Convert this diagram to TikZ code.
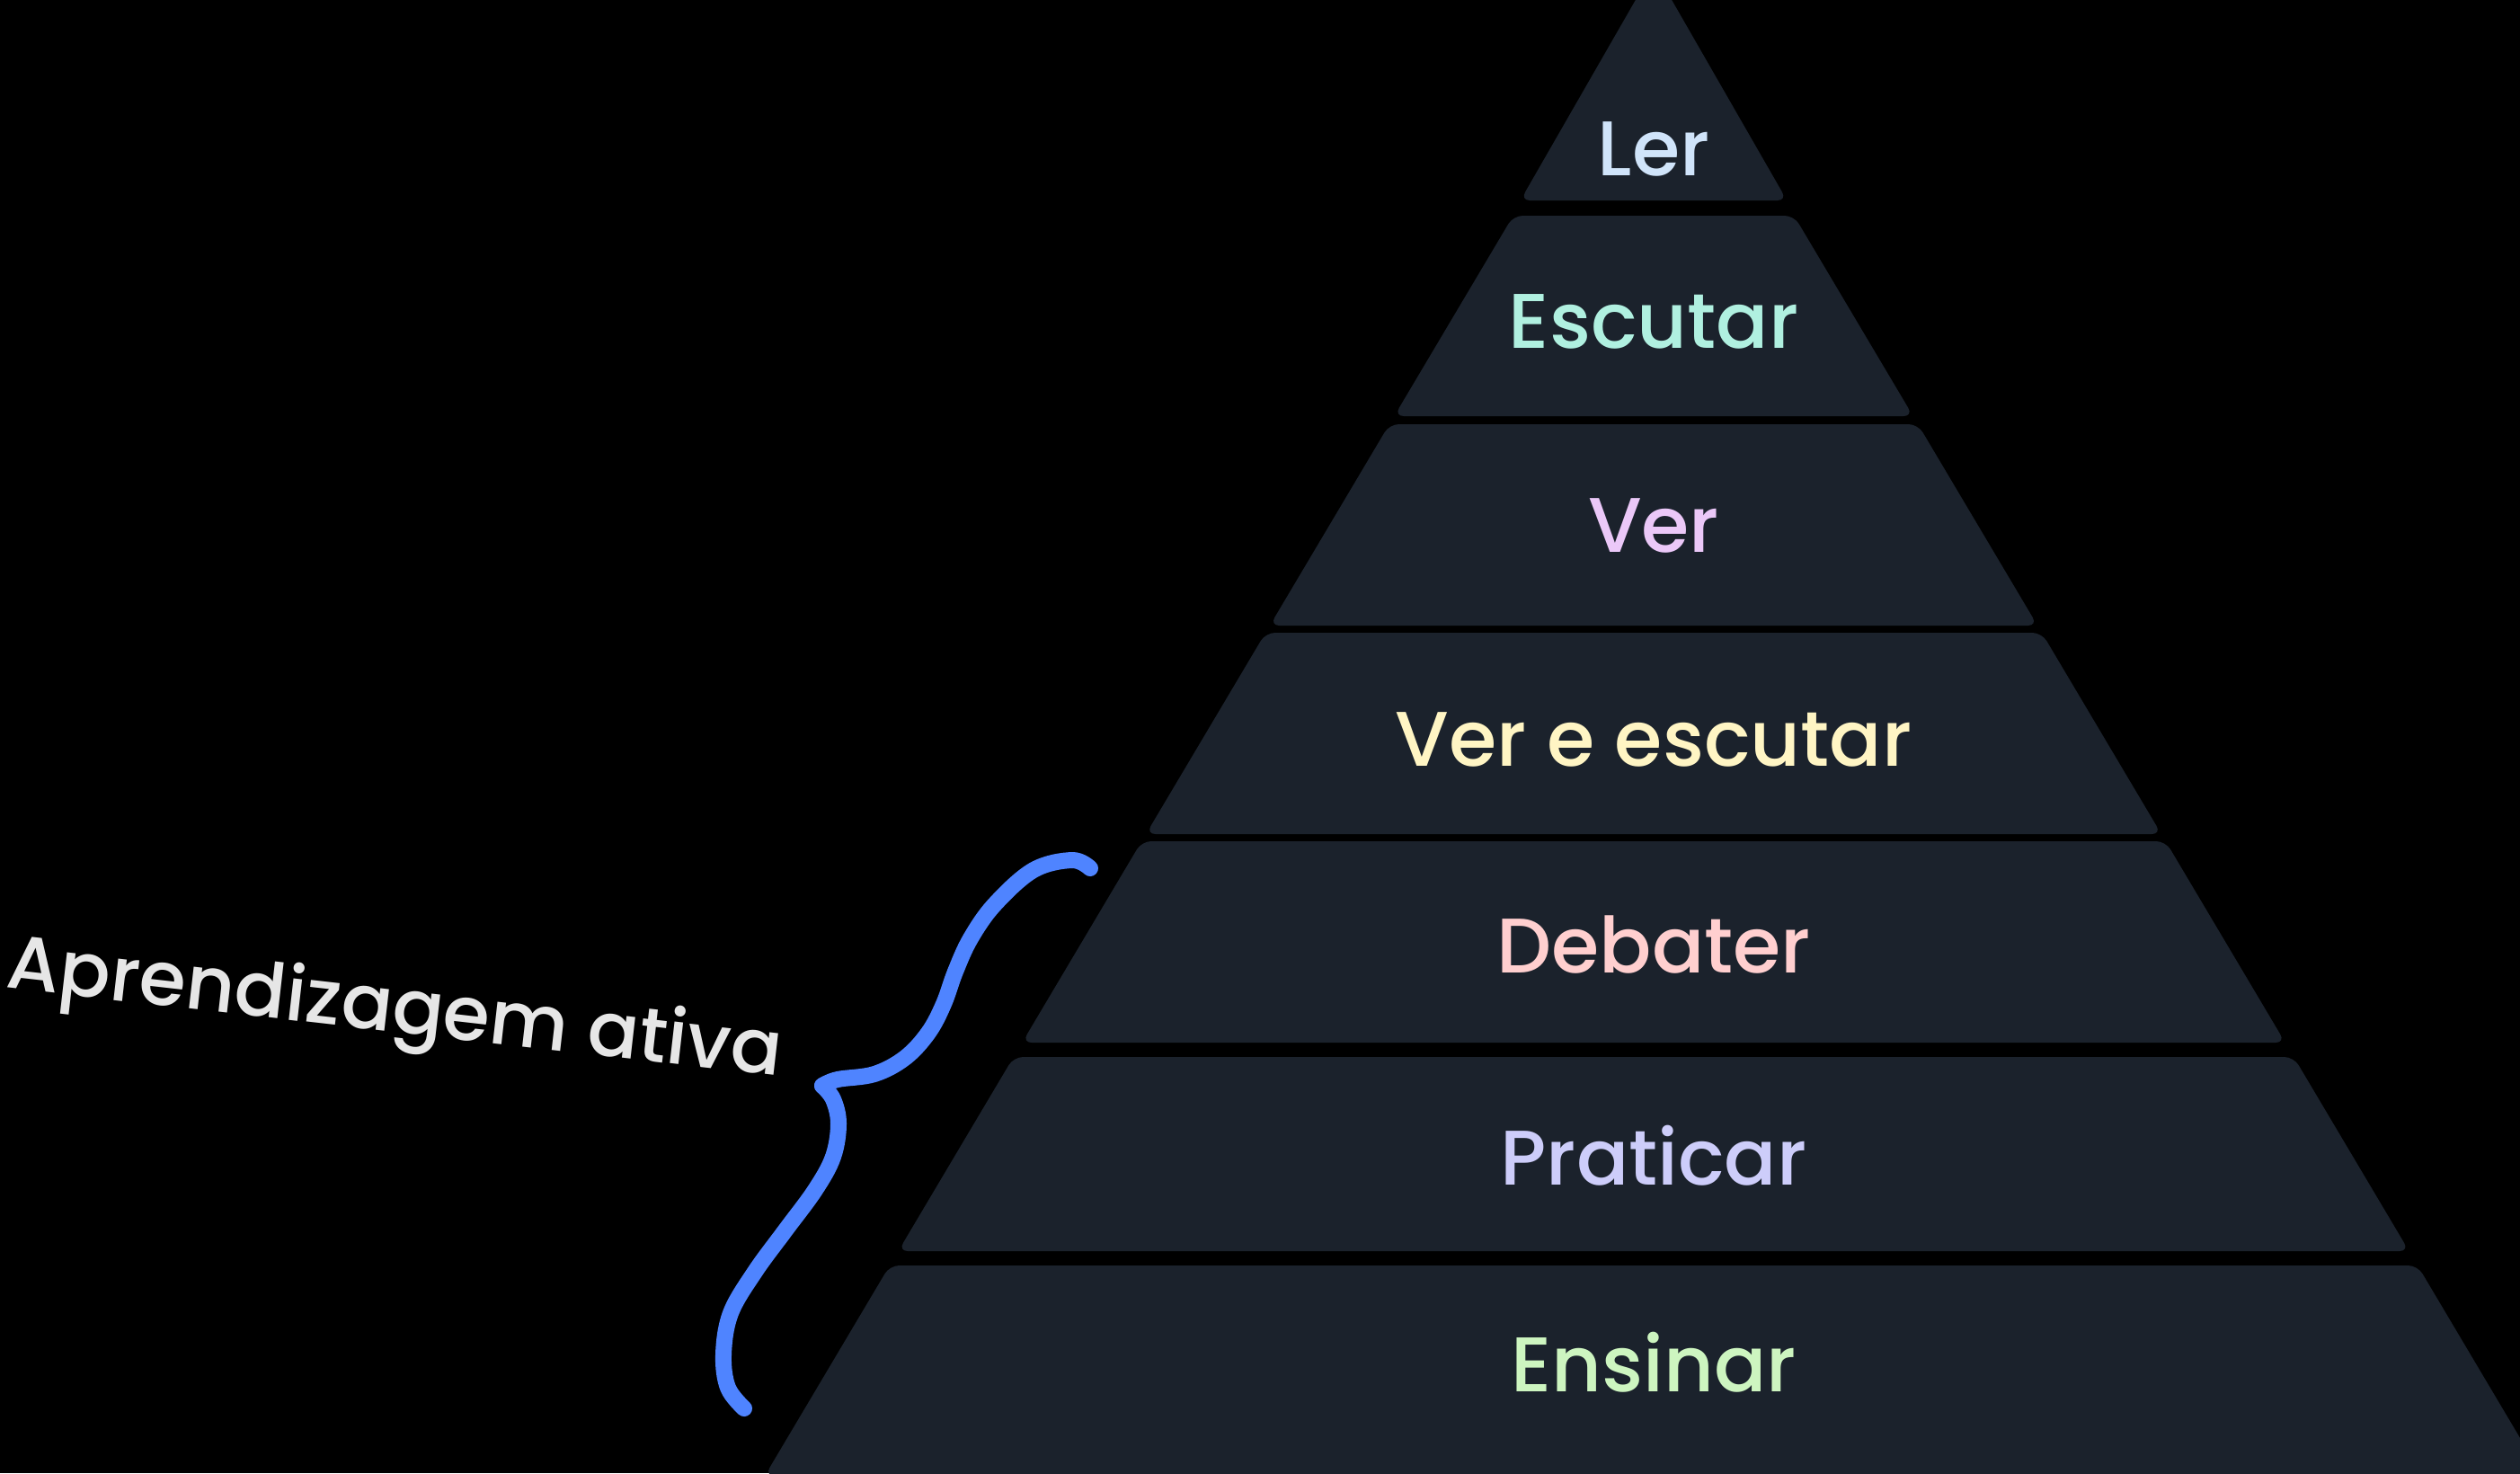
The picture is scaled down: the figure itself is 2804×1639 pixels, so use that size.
\documentclass[tikz,border=0pt]{standalone}
\usepackage{fontspec}
\setmainfont{Poppins}[UprightFont={* Medium}]
\definecolor{bandfill}{HTML}{1B222C}
\definecolor{cLer}{HTML}{D0E4FA}
\definecolor{cEscutar}{HTML}{B0F0E0}
\definecolor{cVer}{HTML}{EBC8F8}
\definecolor{cVerEsc}{HTML}{FFF5C4}
\definecolor{cDebater}{HTML}{FFCFCF}
\definecolor{cPraticar}{HTML}{CDCDFA}
\definecolor{cEnsinar}{HTML}{CDF5C0}
\definecolor{braceblue}{HTML}{4F84FF}
\definecolor{handgray}{HTML}{E6E6E6}
\tikzset{
  bandshape/.style={fill=bandfill, rounded corners=3pt},
  lbl/.style={font=\fontsize{24.5}{29}\selectfont, anchor=base, inner sep=0pt},
  handlbl/.style={font=\fontsize{24}{29}\selectfont, anchor=base, inner sep=0pt, text=handgray, rotate=-6.5},
  bracestroke/.style={draw=braceblue, line width=0.18cm, line cap=round, line join=round},
}
\begin{document}
\begin{tikzpicture}[x=0.01cm, y=-0.01cm]
\useasboundingbox (0,0) rectangle (2804,1639);
\fill[black] (0,0) rectangle (2804,1639);
% top band (triangle)
\fill[bandshape] (1840,-35) -- ({1840+0.598*248},223) -- ({1840-0.598*248},223) -- cycle;
% other bands
\foreach \t/\b in {240/463, 472/696, 704/928, 936/1160, 1176/1392, 1408/1642}{
  \fill[bandshape] ({1840-0.594*(\t+23)},\t) -- ({1840+0.594*(\t+23)},\t)
     -- ({1840+0.594*(\b+23)},\b) -- ({1840-0.594*(\b+23)},\b) -- cycle;
}
% labels
\node[lbl, text=cLer] (ler) at (1840,195) {Ler};
\node[lbl, text=cEscutar] (escutar) at (1840,387) {Escutar};
\node[lbl, text=cVer] (ver) at (1840,614) {Ver};
\node[lbl, text=cVerEsc] (veresc) at (1840,852) {Ver e escutar};
\node[lbl, text=cDebater] (debater) at (1840,1082) {Debater};
\node[lbl, text=cPraticar] (praticar) at (1840,1318) {Praticar};
\node[lbl, text=cEnsinar] (ensinar) at (1840,1548) {Ensinar};
% brace
\draw[bracestroke] plot[smooth, tension=0.6] coordinates {(1213,966) (1193,957) (1150,968) (1107,1006) (1080,1044) (1063,1081) (1050,1117) (1033,1149) (1007,1177) (973,1195) (932,1201) (915,1208)};
\draw[bracestroke] plot[smooth, tension=0.6] coordinates {(915,1208) (927,1223) (933,1250) (927,1287) (907,1324) (873,1370) (840,1415) (813,1461) (805,1507) (810,1544) (828,1567)};
% handwritten label
\node[handlbl] (aprend) at (436,1148) {Aprendizagem ativa};
\end{tikzpicture}
\end{document}
